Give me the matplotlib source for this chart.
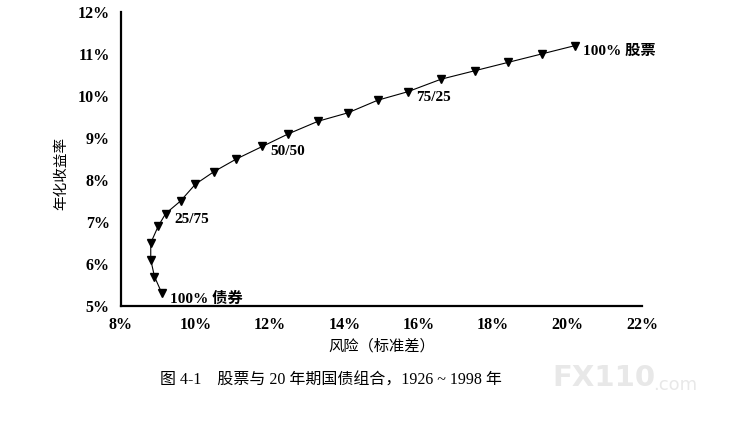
import matplotlib.pyplot as plt
from matplotlib.ticker import FuncFormatter

# portfolio mixes from 100% bonds to 100% stocks in 5% steps
risk = [9.1, 8.9, 8.8, 8.8, 9.0, 9.2, 9.6, 10.0, 10.5, 11.1, 11.8,
        12.5, 13.3, 14.1, 14.9, 15.7, 16.6, 17.5, 18.4, 19.3, 20.2]
ret = [5.3, 5.7, 6.1, 6.5, 6.9, 7.2, 7.5, 7.9, 8.2, 8.5, 8.8,
       9.1, 9.4, 9.6, 9.9, 10.1, 10.4, 10.6, 10.8, 11.0, 11.2]
labels = {0: '100% 债券', 5: '25/75', 10: '50/50', 15: '75/25', 20: '100% 股票'}
xticks = [8, 10, 12, 14, 16, 18, 20, 22]
yticks = [5, 6, 7, 8, 9, 10, 11, 12]

serif = ['Liberation Serif', 'Noto Sans CJK SC']
cjk = ['Noto Sans CJK SC', 'DejaVu Sans']

fig = plt.figure(figsize=(7.35, 4.33), dpi=100)
ax = fig.add_axes([0.1646, 0.2933, 0.7089, 0.679])

ax.plot(risk, ret, color='black', lw=0.8, marker='v', ms=6, mfc='black', mec='black')

for i, txt in labels.items():
    ax.annotate(txt, (risk[i], ret[i]), xytext=(6, -4), textcoords='offset points',
                fontsize=11, fontweight='bold', family=serif, va='center', ha='left')

ax.set_xlim(8, 22)
ax.set_ylim(5, 12)
ax.set_xticks(xticks)
ax.set_yticks(yticks)
pct = FuncFormatter(lambda v, p: f'{v:.0f}%')
ax.xaxis.set_major_formatter(pct)
ax.yaxis.set_major_formatter(pct)
for lab in ax.get_xticklabels() + ax.get_yticklabels():
    lab.set_family(serif)
    lab.set_fontweight('bold')
    lab.set_fontsize(11.5)
ax.tick_params(length=0, pad=8)
ax.spines['top'].set_visible(False)
ax.spines['right'].set_visible(False)
ax.spines['left'].set_linewidth(1.6)
ax.spines['bottom'].set_linewidth(1.6)

ax.set_xlabel('风险（标准差）', family=cjk, fontsize=11, labelpad=3)
fig.text(0.084, 0.6, '年化收益率', family=cjk, fontsize=10.5, rotation=90,
         ha='center', va='center')

fig.text(0.218, 0.122, '图 4-1    股票与 20 年期国债组合，1926 ~ 1998 年',
         family=serif, fontsize=11.5, ha='left', va='center')
fig.text(0.752, 0.127, 'FX110', family='DejaVu Sans', fontsize=21, fontweight='bold',
         color='#e8e8e8', ha='left', va='center')
fig.text(0.888, 0.112, '.com', family='DejaVu Sans', fontsize=13,
         color='#e8e8e8', ha='left', va='center')

plt.savefig('out.png')
